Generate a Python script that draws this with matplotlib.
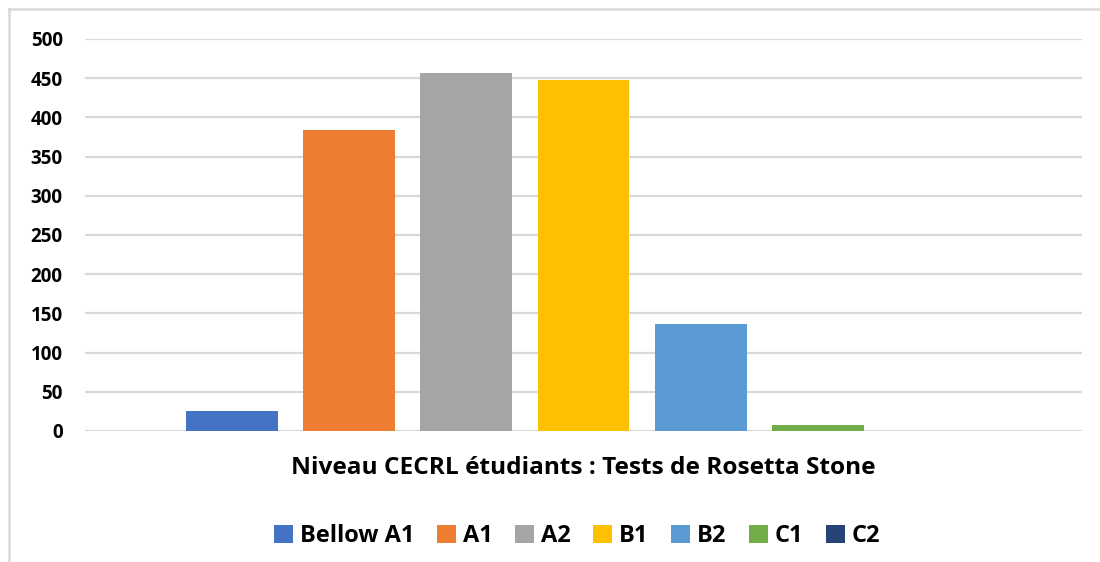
import matplotlib
matplotlib.use("Agg")
import matplotlib.pyplot as plt
from matplotlib.lines import Line2D
from matplotlib.patches import Patch

series = ["Bellow A1", "A1", "A2", "B1", "B2", "C1", "C2"]
values = [25, 384, 456, 448, 136, 8, 0]
colors = ["#4472C4", "#ED7D31", "#A5A5A5", "#FFC000", "#5B9BD5", "#70AD47", "#264478"]
yticks = [0, 50, 100, 150, 200, 250, 300, 350, 400, 450, 500]
title = "Niveau CECRL étudiants : Tests de Rosetta Stone"

plt.rcParams['font.family'] = ['Open Sans', 'DejaVu Sans']

W, H = 1100, 562
fig = plt.figure(figsize=(W / 100, H / 100), dpi=100)
ax = fig.add_axes([85 / W, 1 - 431 / H, (1082 - 85) / W, (431 - 39) / H])

x = list(range(len(series)))
ax.bar(x, values, width=0.786, color=colors, edgecolor="none", zorder=3)
ax.set_xlim(-1.26, len(series) - 1 + 1.26)
ax.set_ylim(0, 500)
ax.set_yticks(yticks)
ax.set_yticklabels([str(t) for t in yticks], fontsize=13.5, fontweight="bold")
ax.set_xticks([])
ax.grid(axis="y", color="#d9d9d9", linewidth=1.6, zorder=0)
for s in ax.spines.values():
    s.set_visible(False)
ax.tick_params(axis="y", length=0, pad=16)

fig.text(583.5 / W, 1 - 468 / H, title, ha="center", va="center",
         fontsize=17.6, fontweight="bold", color="#000000")

handles = [Patch(facecolor=c, edgecolor="none") for c in colors]
fig.legend(handles, series, loc="center", bbox_to_anchor=(577 / W, 1 - 536 / H),
           ncol=len(series), frameon=False, handlelength=0.8, handleheight=0.8,
           handletextpad=0.3, columnspacing=0.95,
           prop={"size": 17, "weight": "bold"})

# chart border (top and left)
fig.add_artist(Line2D([9 / W, 1], [1 - 9 / H, 1 - 9 / H], transform=fig.transFigure,
                      color="#d9d9d9", linewidth=1.8))
fig.add_artist(Line2D([9 / W, 9 / W], [1 - 9 / H, 0], transform=fig.transFigure,
                      color="#d9d9d9", linewidth=1.8))

fig.savefig("out.png", dpi=100)
